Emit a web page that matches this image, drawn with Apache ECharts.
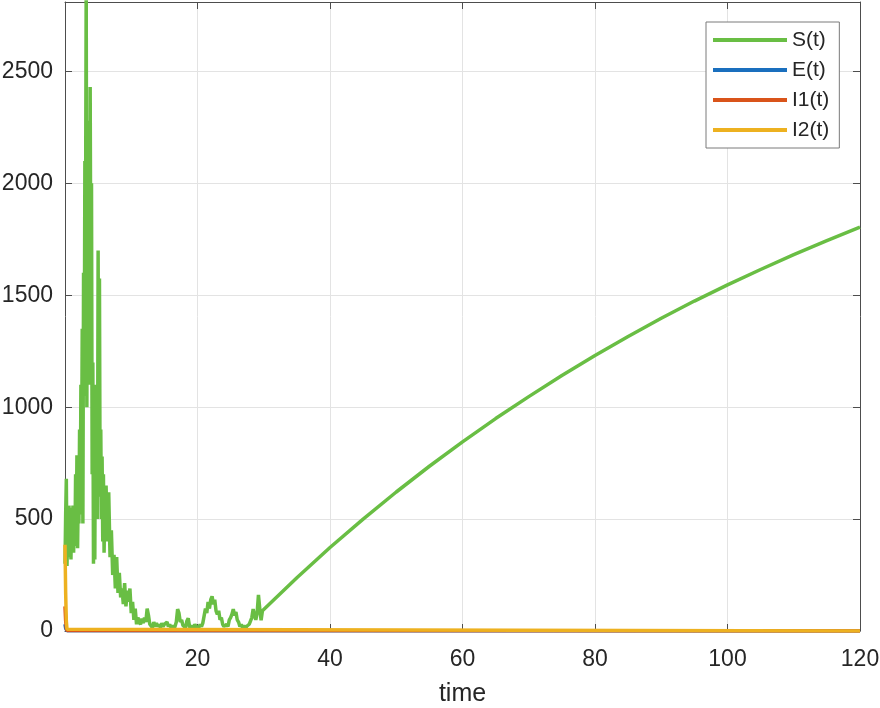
<!DOCTYPE html>
<html>
<head>
<meta charset="utf-8">
<script src="https://cdn.jsdelivr.net/npm/echarts@6/dist/echarts.min.js"></script>
<style>
  html, body { margin: 0; padding: 0; background: #fff; }
  #chart { width: 880px; height: 708px; }
</style>
</head>
<body>
<div id="chart"></div>
<script>
// S(t): noisy burst, t = 0 .. 6 step 0.1
var sBurst = [300, 520, 680, 290, 450, 330, 560, 340, 480, 320,
  550, 400, 560, 350, 500, 380, 700, 420, 785, 370,
  620, 480, 900, 520, 1100, 700, 1350, 480, 1600, 1050,
  2100, 1800, 2900, 1000, 2280, 1300, 2100, 1100, 2430, 1500,
  2000, 700, 1200, 300, 900, 320, 1100, 600, 1000, 500,
  1700, 700, 1575, 600, 900, 500, 780, 400, 700, 350,
  560]
// S(t): decaying noise, t = 6.2 .. 29.8 step 0.2
var sTail = [650, 400, 620, 330, 450, 250, 340, 190, 330, 170,
  260, 150, 190, 120, 214, 110, 180, 130, 190, 80,
  130, 50, 100, 30, 60, 40, 30, 55, 35, 60,
  40, 100, 70, 30, 25, 15, 40, 20, 35, 20,
  30, 15, 35, 20, 30, 25, 40, 20, 30, 15,
  25, 10, 20, 40, 98, 80, 40, 50, 25, 30,
  15, 45, 57, 20, 10, 25, 15, 30, 20, 25,
  15, 30, 20, 35, 40, 100, 80, 130, 100, 140,
  155, 120, 140, 90, 74, 90, 50, 60, 30, 20,
  15, 30, 20, 50, 60, 75, 98, 70, 85, 50,
  40, 20, 30, 15, 25, 10, 20, 15, 30, 25,
  60, 98, 70, 50, 80, 161, 100, 48, 90]
// S(t): smooth recovery, t = 30 .. 120 step 5
var sRecovery = [95, 238, 373, 500, 621, 736, 845, 949, 1047, 1141,
  1231, 1316, 1397, 1474, 1546, 1615, 1681, 1744, 1804]

// E, I1, I2 die out almost at once
var earlyTime = [0, 0.1, 0.2, 0.3, 0.4, 120]
var eValues = [30, 12, 4, 1, 0, 0]
var i1Values = [110, 45, 12, 2, 0, 0]
var i2Values = [385, 170, 45, 8, 0, 0]

var xTicks = [0, 20, 40, 60, 80, 100, 120]
var yTicks = [0, 500, 1000, 1500, 2000, 2500]

function steps(values, start, step) {
  return values.map(function (v, i) {
    return [+(start + i * step).toFixed(2), v]
  })
}

var sData = steps(sBurst, 0, 0.1)
  .concat(steps(sTail, 6.2, 0.2))
  .concat(steps(sRecovery, 30, 5))

function pairs(values) {
  return earlyTime.map(function (t, i) { return [t, values[i]] })
}

var chart = echarts.init(document.getElementById('chart'))
var font = 'Liberation Sans, Arial, Helvetica, sans-serif'
var textColor = '#262626'
var boxColor = '#4d4d4d'
var gridColor = '#e3e3e3'

var option = {
  animation: false,
  textStyle: { fontFamily: font },
  grid: { left: 65, right: 20, top: 2, bottom: 77, containLabel: false, outerBoundsMode: 'none' },
  legend: {
    orient: 'vertical',
    left: 706,
    top: 22,
    padding: [7, 10, 7, 7],
    itemWidth: 74,
    itemHeight: 4,
    itemGap: 8,
    icon: 'rect',
    backgroundColor: '#fff',
    borderColor: '#7a7a7a',
    borderWidth: 1,
    textStyle: { fontSize: 21, color: textColor, fontFamily: font, lineHeight: 22 },
    data: ['S(t)', 'E(t)', 'I1(t)', 'I2(t)']
  },
  xAxis: [{
    type: 'value',
    min: xTicks[0],
    max: xTicks[xTicks.length - 1],
    interval: 20,
    name: 'time',
    nameLocation: 'middle',
    nameGap: 51,
    nameTextStyle: { fontSize: 25, color: textColor, fontFamily: font },
    axisLine: { onZero: false, lineStyle: { color: boxColor, width: 1 } },
    axisTick: { inside: true, length: 7, lineStyle: { color: boxColor } },
    axisLabel: {
      fontSize: 23, color: textColor, margin: 17, fontFamily: font,
      formatter: function (v) { return v === 0 ? '' : String(v) }
    },
    splitLine: { show: true, lineStyle: { color: gridColor, width: 1 } }
  }, {
    type: 'value',
    position: 'top',
    min: xTicks[0],
    max: xTicks[xTicks.length - 1],
    interval: 20,
    axisLine: { onZero: false, lineStyle: { color: boxColor, width: 1 } },
    axisTick: { inside: true, length: 7, lineStyle: { color: boxColor } },
    axisLabel: { show: false },
    splitLine: { show: false }
  }],
  yAxis: [{
    type: 'value',
    min: yTicks[0],
    max: 2810,
    interval: 500,
    axisLine: { show: true, onZero: false, lineStyle: { color: boxColor, width: 1 } },
    axisTick: { show: true, inside: true, length: 7, lineStyle: { color: boxColor } },
    axisLabel: {
      fontSize: 23, color: textColor, margin: 12, fontFamily: font,
      showMaxLabel: false,
      formatter: function (v) { return String(v) }
    },
    splitLine: { show: true, lineStyle: { color: gridColor, width: 1 } }
  }, {
    type: 'value',
    position: 'right',
    min: yTicks[0],
    max: 2810,
    interval: 500,
    axisLine: { show: true, onZero: false, lineStyle: { color: boxColor, width: 1 } },
    axisTick: { show: true, inside: true, length: 7, lineStyle: { color: boxColor } },
    axisLabel: { show: false },
    splitLine: { show: false }
  }],
  series: [
    {
      name: 'S(t)', type: 'line', data: sData, showSymbol: false, clip: true,
      color: '#69be44', lineStyle: { width: 3.5, color: '#69be44' }
    },
    {
      name: 'E(t)', type: 'line', data: pairs(eValues), showSymbol: false, clip: true,
      color: '#1a6fbe', lineStyle: { width: 3.5, color: '#1a6fbe' }
    },
    {
      name: 'I1(t)', type: 'line', data: pairs(i1Values), showSymbol: false, clip: true,
      color: '#d9541a', lineStyle: { width: 3.5, color: '#d9541a' }
    },
    {
      name: 'I2(t)', type: 'line', data: pairs(i2Values), showSymbol: false, clip: true,
      color: '#edb120', lineStyle: { width: 3.5, color: '#edb120' }
    }
  ]
}
chart.setOption(option)
</script>
</body>
</html>
